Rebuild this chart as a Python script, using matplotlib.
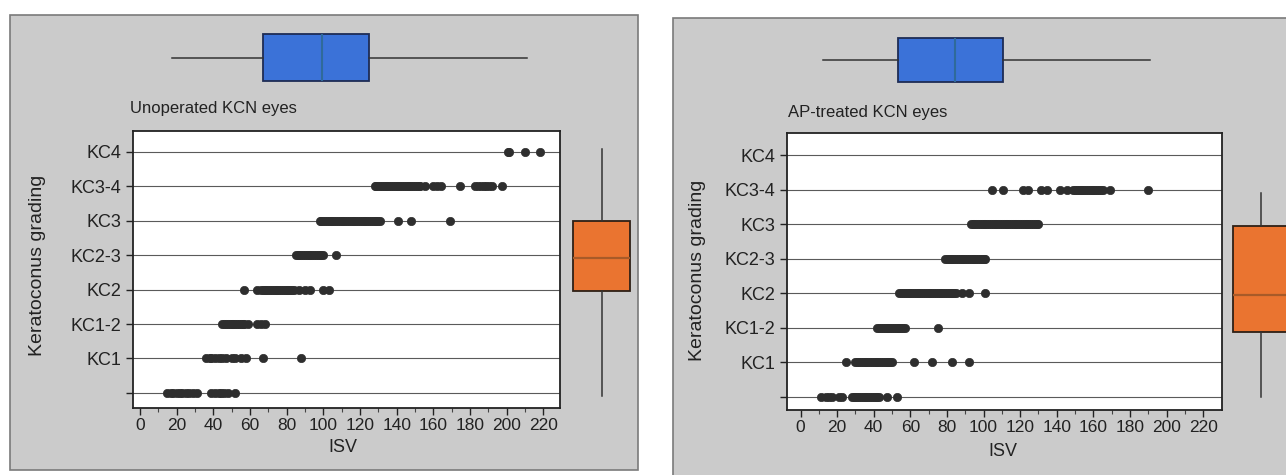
import matplotlib
matplotlib.use('Agg')
import matplotlib.pyplot as plt
from matplotlib.patches import Rectangle

W, H = 1286, 475
FONT = ['Liberation Sans Narrow', 'Liberation Sans', 'DejaVu Sans']

categories = ['', 'KC1', 'KC1-2', 'KC2', 'KC2-3', 'KC3', 'KC3-4', 'KC4']
xtick_values = [0, 20, 40, 60, 80, 100, 120, 140, 160, 180, 200, 220]
xtick_labels = ['0', '20', '40', '60', '80', '100', '120', '140', '160', '180', '200', '220']

# ---------------- Unoperated KCN eyes (ISV values per grade) ----------------
unop_normal = [15, 17, 18, 20, 22, 23, 25, 27, 29, 31, 39, 41, 43, 44, 46, 48, 52]
unop_kc1 = [36, 38, 39, 41, 43, 45, 47, 50, 52, 55, 58, 67, 88]
unop_kc12 = [45, 46, 47, 48, 49, 50, 51, 52, 53, 54, 55, 56, 57, 59, 64, 66, 68]
unop_kc2 = [57, 64, 66, 67, 68, 69, 70, 71, 72, 73, 74, 75, 76, 77, 78, 79, 80,
            81, 82, 83, 84, 87, 90, 93, 100, 103]
unop_kc23 = [85, 86, 87, 88, 89, 90, 91, 92, 93, 94, 95, 96, 97, 98, 99, 100, 107]
unop_kc3 = [98, 99, 100, 101, 102, 103, 104, 105, 106, 107, 108, 109, 110, 111,
            112, 113, 114, 115, 116, 117, 118, 119, 120, 121, 122, 123, 124, 125,
            126, 127, 128, 129, 130, 131, 141, 148, 169]
unop_kc34 = [128, 129, 130, 131, 132, 133, 134, 135, 136, 137, 138, 139, 140, 141,
             142, 143, 144, 145, 146, 147, 148, 149, 150, 151, 152, 153, 155.5,
             160, 162, 164, 174.5, 183, 184.5, 186, 187.5, 189, 190.5, 192, 197.5]
unop_kc4 = [200.5, 201.5, 210, 218]
unop_series = [unop_normal, unop_kc1, unop_kc12, unop_kc2, unop_kc23, unop_kc3,
               unop_kc34, unop_kc4]
unop_isv_box = dict(whislo=17.5, q1=67, med=99.5, q3=125, whishi=211)
unop_grade_box = dict(whislo=-0.1, q1=2.96, med=3.92, q3=5.0, whishi=7.1)

# ---------------- AP-treated KCN eyes ----------------
ap_normal = [11, 14, 15.5, 17, 21, 22.5, 28, 29, 30, 31, 32, 33, 34, 35, 36, 37,
             38, 39, 40, 41, 42, 43, 47, 52.5]
ap_kc1 = [25, 30, 31, 32, 33, 34, 35, 36, 37, 38, 39, 40, 41, 42, 43, 44, 45, 46,
          47, 48, 49, 50, 62, 72, 83, 92]
ap_kc12 = [42, 43, 44, 45, 46, 47, 48, 49, 50, 51, 52, 53, 54, 55, 56, 57, 75]
ap_kc2 = [54, 55, 56, 57, 58, 59, 60, 61, 62, 63, 64, 65, 66, 67, 68, 69, 70, 71,
          72, 73, 74, 75, 76, 77, 78, 79, 80, 81, 82, 83, 84, 85, 88, 92, 101]
ap_kc23 = [79, 80, 81, 82, 83, 84, 85, 86, 87, 88, 89, 90, 91, 92, 93, 94, 95, 96,
           97, 98, 99, 100, 101]
ap_kc3 = [93, 94, 95, 96, 97, 98, 99, 100, 101, 102, 103, 104, 105, 106, 107, 108,
          109, 110, 111, 112, 113, 114, 115, 116, 117, 118, 119, 120, 121, 122,
          123, 124, 125, 126, 127, 128, 129, 130]
ap_kc34 = [104.5, 110.5, 121.5, 124.5, 131.5, 134.5, 142, 145.5, 149, 150, 151,
           152, 153, 154, 155, 156, 157, 158, 159, 160, 161, 162, 163, 164, 165.5,
           169, 190]
ap_kc4 = []
ap_series = [ap_normal, ap_kc1, ap_kc12, ap_kc2, ap_kc23, ap_kc3, ap_kc34, ap_kc4]
ap_isv_box = dict(whislo=12, q1=53.5, med=84.5, q3=110.5, whishi=191)
ap_grade_box = dict(whislo=0, q1=1.88, med=2.95, q3=4.95, whishi=5.9)

BG = '#cbcbcb'
POINT = '#2e2e2e'
BLUE = '#3b72d8'
ORANGE = '#ea7430'

fig = plt.figure(figsize=(W / 100, H / 100), dpi=100)
fig.patch.set_facecolor('white')


def px_axes(x0, y0, x1, y1):
    a = fig.add_axes([x0 / W, 1 - y1 / H, (x1 - x0) / W, (y1 - y0) / H])
    a.set_zorder(2)
    return a


def panel(bg, main, xlim, ylim, top, right, title, title_xy, ylabel_xy, isv_xy,
          series, isv_box, grade_box):
    x0, y0, x1, y1 = bg
    fig.patches.append(Rectangle((x0 / W, 1 - y1 / H), (x1 - x0) / W, (y1 - y0) / H,
                                 transform=fig.transFigure, facecolor=BG,
                                 edgecolor='#7a7a7a', linewidth=1.2, zorder=-5))
    ax = px_axes(*main)
    ax.set_facecolor('white')
    ax.set_xlim(*xlim)
    ax.set_ylim(*ylim)
    ax.set_xticks(xtick_values)
    ax.set_xticklabels(xtick_labels, fontfamily=FONT, fontsize=12.5)
    ax.set_xticks(range(10, 230, 20), minor=True)
    ax.set_yticks(range(len(categories)))
    ax.set_yticklabels(categories, fontfamily=FONT, fontsize=13)
    ax.tick_params(axis='both', direction='out', length=5, width=1, color='#222',
                   labelcolor='#222')
    ax.tick_params(axis='x', which='minor', length=3, width=0.8, color='#444')
    ax.tick_params(axis='x', pad=2)
    ax.yaxis.grid(True, color='#5a5a5a', linewidth=0.8)
    ax.set_axisbelow(True)
    for s in ax.spines.values():
        s.set_color('#222')
        s.set_linewidth(1.3)
    for i, vals in enumerate(series):
        if vals:
            ax.plot(vals, [i] * len(vals), 'o', ms=6, color=POINT, mec=POINT,
                    mew=0.5, zorder=3)

    # top marginal box (ISV)
    axt = px_axes(*top)
    axt.set_xlim(*xlim)
    axt.set_ylim(-0.7, 0.7)
    axt.bxp([dict(isv_box, fliers=[])], positions=[0], widths=1.0,
            orientation='horizontal', patch_artist=True, showcaps=False,
            boxprops=dict(facecolor=BLUE, edgecolor='#1e2c55', linewidth=1.3),
            medianprops=dict(color='#2f6a9a', linewidth=1.5),
            whiskerprops=dict(color='#333', linewidth=1.1))
    axt.axis('off')

    # right marginal box (grade)
    axr = px_axes(*right)
    axr.set_ylim(*ylim)
    axr.set_xlim(-0.6, 0.6)
    axr.bxp([dict(grade_box, fliers=[])], positions=[0], widths=1.0,
            orientation='vertical', patch_artist=True, showcaps=False,
            boxprops=dict(facecolor=ORANGE, edgecolor='#2e2016', linewidth=1.3),
            medianprops=dict(color='#a85a28', linewidth=1.6),
            whiskerprops=dict(color='#333', linewidth=1.1))
    axr.axis('off')

    fig.text(title_xy[0] / W, 1 - title_xy[1] / H, title, fontfamily=FONT,
             fontsize=12, ha='left', va='center', color='#222')
    fig.text(ylabel_xy[0] / W, 1 - ylabel_xy[1] / H, 'Keratoconus grading',
             fontfamily=FONT, fontsize=14, rotation=90, ha='center', va='center',
             color='#222')
    fig.text(isv_xy[0] / W, 1 - isv_xy[1] / H, 'ISV', fontfamily=FONT,
             fontsize=13, ha='center', va='center', color='#222')


panel(bg=(10, 15, 638, 470), main=(133, 131, 560, 408), xlim=(-3.8, 229.1),
      ylim=(-0.44, 7.61), top=(133, 25, 560, 90), right=(567, 131, 636, 408),
      title='Unoperated KCN eyes', title_xy=(130, 108), ylabel_xy=(38, 265),
      isv_xy=(343, 448), series=unop_series, isv_box=unop_isv_box,
      grade_box=unop_grade_box)

panel(bg=(673, 18, 1296, 485), main=(787, 133, 1222, 410), xlim=(-7.4, 230.3),
      ylim=(-0.38, 7.64), top=(787, 29, 1222, 91), right=(1227, 133, 1295, 410),
      title='AP-treated KCN eyes', title_xy=(788, 112), ylabel_xy=(698, 270),
      isv_xy=(1003, 451), series=ap_series, isv_box=ap_isv_box,
      grade_box=ap_grade_box)

fig.savefig('out.png', dpi=100)
